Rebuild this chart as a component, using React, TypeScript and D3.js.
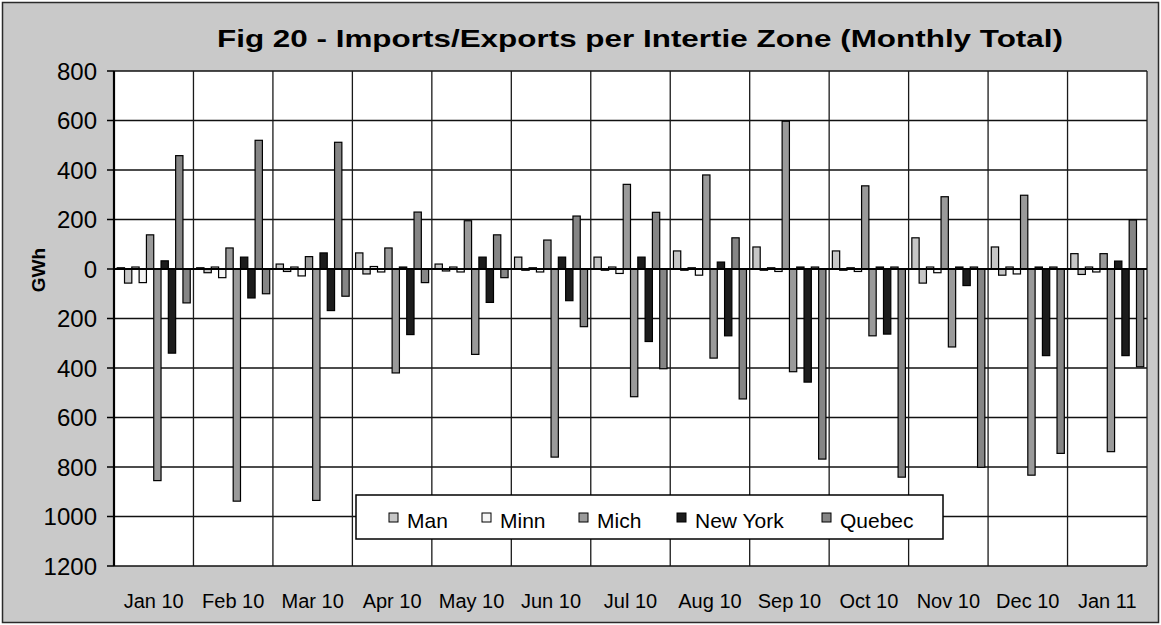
import * as d3 from "d3";

// months on the category axis
const months = [
  "Jan 10", "Feb 10", "Mar 10", "Apr 10", "May 10", "Jun 10", "Jul 10",
  "Aug 10", "Sep 10", "Oct 10", "Nov 10", "Dec 10", "Jan 11",
];

// zones (legend order)
const zones = ["Man", "Minn", "Mich", "New York", "Quebec"];

// GWh per month, imports (positive) and exports (negative) per zone
const manImports = [5, 5, 20, 65, 20, 48, 48, 73, 89, 73, 126, 89, 62];
const manExports = [-57, -15, -10, -20, -8, -5, -5, -5, -5, -5, -57, -25, -22];
const minnImports = [8, 8, 8, 10, 8, 5, 8, 5, 5, 5, 8, 8, 8];
const minnExports = [-55, -35, -28, -12, -12, -12, -18, -25, -10, -10, -15, -20, -12];
const michImports = [138, 85, 50, 85, 195, 117, 342, 380, 597, 336, 292, 298, 62];
const michExports = [-855, -938, -935, -420, -345, -760, -516, -360, -415, -270, -315, -833, -738];
const nyImports = [33, 48, 65, 8, 48, 48, 48, 28, 8, 8, 8, 8, 32];
const nyExports = [-340, -117, -168, -265, -135, -128, -293, -270, -457, -263, -67, -350, -350];
const queImports = [458, 520, 512, 230, 138, 214, 229, 126, 8, 8, 8, 8, 198];
const queExports = [-137, -100, -110, -55, -35, -233, -403, -525, -768, -841, -801, -745, -395];

const yTickValues = [-1200, -1000, -800, -600, -400, -200, 0, 200, 400, 600, 800];

const W = 1161;
const H = 625;
const FONT = "'Liberation Sans', Arial, sans-serif";

const zoneFill: Record<string, string> = {
  Man: "#c6c6c6",
  Minn: "#f5f5f5",
  Mich: "#9a9a9a",
  "New York": "#1c1c1c",
  Quebec: "#858585",
};

export default function App() {
  const left = 114, right = 1147, top = 71, bottom = 566;

  // each zone has an import bar and an export bar, side by side
  const series = [
    { key: "manI", zone: "Man", values: manImports },
    { key: "manE", zone: "Man", values: manExports },
    { key: "minnI", zone: "Minn", values: minnImports },
    { key: "minnE", zone: "Minn", values: minnExports },
    { key: "michI", zone: "Mich", values: michImports },
    { key: "michE", zone: "Mich", values: michExports },
    { key: "nyI", zone: "New York", values: nyImports },
    { key: "nyE", zone: "New York", values: nyExports },
    { key: "queI", zone: "Quebec", values: queImports },
    { key: "queE", zone: "Quebec", values: queExports },
  ];

  const x = d3.scaleBand().domain(months).range([left, right]).padding(0);
  const sub = d3
    .scaleBand()
    .domain(series.map((s) => s.key))
    .range([0, x.bandwidth()])
    .paddingInner(0)
    .paddingOuter(0.44);
  const y = d3.scaleLinear().domain([-1200, 800]).range([bottom, top]);

  const boundaries = months.map((m) => x(m)! + x.bandwidth());

  // legend layout
  const legendX = [389, 482, 579, 677, 822];

  return (
    <svg
      width={W}
      height={H}
      style={{ position: "absolute", left: 0, top: 0, display: "block" }}
      fontFamily={FONT}
    >
      {/* outer chart area */}
      <rect x={0} y={0} width={W} height={H} fill="#ffffff" />
      <rect x={2.5} y={2.5} width={W - 5} height={H - 5} fill="#c9c9c9" stroke="#2a2a2a" strokeWidth={1.5} />

      <text
        x={217}
        y={47}
        fontSize={24}
        fontWeight="bold"
        textLength={846}
        lengthAdjust="spacingAndGlyphs"
        fill="#000"
      >
        Fig  20 - Imports/Exports per Intertie Zone (Monthly Total)
      </text>

      {/* plot area */}
      <rect x={left} y={top} width={right - left} height={bottom - top} fill="#ffffff" />

      {/* horizontal grid */}
      {yTickValues.map((v) => (
        <line key={"h" + v} x1={left} x2={right} y1={y(v)} y2={y(v)} stroke="#111" strokeWidth={1.6} />
      ))}
      {/* vertical grid at category boundaries */}
      {boundaries.map((bx, i) => (
        <line key={"v" + i} x1={bx} x2={bx} y1={top} y2={bottom} stroke="#1a1a1a" strokeWidth={1.3} />
      ))}

      {/* bars */}
      {months.map((m, i) => (
        <g key={m} transform={`translate(${x(m)},0)`}>
          {series.map((s) => {
            const v = s.values[i];
            const y0 = y(Math.max(0, v));
            const y1 = y(Math.min(0, v));
            return (
              <rect
                key={s.key}
                x={sub(s.key)}
                y={y0}
                width={sub.bandwidth()}
                height={Math.max(1, y1 - y0)}
                fill={zoneFill[s.zone]}
                stroke="#000"
                strokeWidth={1.2}
              />
            );
          })}
        </g>
      ))}

      {/* zero axis and y axis */}
      <line x1={left} x2={right} y1={y(0)} y2={y(0)} stroke="#000" strokeWidth={2} />
      <line x1={left} x2={left} y1={top} y2={bottom} stroke="#000" strokeWidth={2.2} />
      {yTickValues.map((v) => (
        <g key={"t" + v}>
          <line x1={left - 7} x2={left} y1={y(v)} y2={y(v)} stroke="#000" strokeWidth={1.5} />
          <text x={97} y={y(v) + 8.5} fontSize={24} textAnchor="end" fill="#000">
            {Math.abs(v)}
          </text>
        </g>
      ))}

      <text
        transform={`translate(45,${y(0) + 1}) rotate(-90)`}
        fontSize={19}
        fontWeight="bold"
        textAnchor="middle"
        fill="#000"
      >
        GWh
      </text>

      {/* month labels */}
      {months.map((m) => (
        <text key={"l" + m} x={x(m)! + x.bandwidth() / 2} y={608} fontSize={20} textAnchor="middle" fill="#000">
          {m}
        </text>
      ))}

      {/* legend */}
      <rect x={356} y={495} width={587} height={44} fill="#ffffff" stroke="#000" strokeWidth={1.5} />
      {zones.map((z, i) => (
        <g key={"lg" + z}>
          <rect x={legendX[i]} y={513} width={9} height={9} fill={zoneFill[z]} stroke="#000" strokeWidth={1} />
          <text x={legendX[i] + 18} y={528} fontSize={21} fill="#000">
            {z}
          </text>
        </g>
      ))}
    </svg>
  );
}
